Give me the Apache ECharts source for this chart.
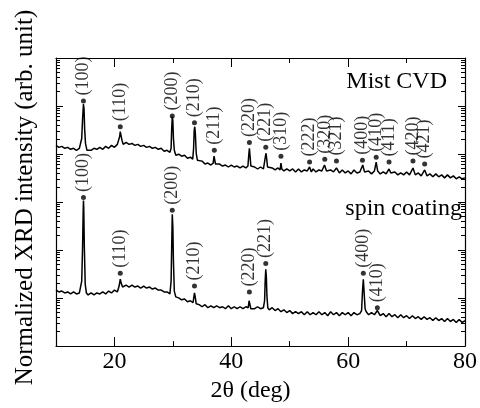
<!DOCTYPE html>
<html><head><meta charset="utf-8">
<script src="https://cdn.jsdelivr.net/npm/echarts@6/dist/echarts.min.js"></script>
<style>html,body{margin:0;padding:0;background:#fff}#c{width:480px;height:408px}</style>
</head><body><div id="c"></div>
<script>
// ---- data: [2theta (deg), normalized intensity (arb.)] ----
const mistCVD = [[10,15150],[10.5,13780],[11,14450],[11.5,13150],[12,13780],[12.5,12540],[13,13150],[13.5,11960],[14,13150],[14.2,12540],[14.4,21070],[14.55,54100],[14.7,110000],[14.8,86700],[14.9,33800],[15.05,16640],[15.3,11960],[15.5,13150],[16,11960],[16.5,13150],[17,12540],[17.5,13780],[18,12540],[18.5,14450],[19,13150],[19.5,15150],[20,13780],[20.5,15880],[20.7,16640],[20.9,23200],[21.0,29300],[21.1,25400],[21.3,19170],[21.5,15880],[22,17450],[22.5,15880],[23,16640],[23.5,15150],[24,15880],[24.5,14450],[25,15150],[25.5,13780],[26,14450],[26.5,13150],[27,13780],[27.5,12540],[28,13150],[28.5,11410],[29,11960],[29.5,10890],[29.7,13150],[29.8,33800],[29.9,59500],[30.0,49200],[30.1,21070],[30.25,11960],[30.5,9450],[31,9910],[31.5,9010],[32,9450],[32.5,8200],[33,8600],[33.4,7825],[33.55,13150],[33.65,30700],[33.75,37100],[33.85,27200],[34.0,10380],[34.2,7460],[34.5,6790],[35,7120],[35.5,6180],[36,6480],[36.5,5900],[36.9,6480],[37.05,9010],[37.15,9450],[37.3,6180],[37.5,5620],[38,6180],[38.5,5620],[39,5900],[39.5,5370],[40,5900],[40.5,5370],[41,5620],[41.5,5120],[42,5620],[42.5,5120],[42.85,5620],[43.0,9910],[43.1,13150],[43.2,9450],[43.35,5620],[43.5,5120],[44,5370],[44.5,4880],[45,5370],[45.5,4880],[45.7,5370],[45.85,9010],[45.95,10380],[46.05,8200],[46.2,5370],[46.5,4880],[47,5120],[47.5,4660],[48,5120],[48.35,4660],[48.5,6480],[48.65,4880],[49,4440],[49.5,4880],[50,4440],[50.5,4880],[51,4240],[51.5,4880],[52,4240],[52.5,4660],[53,4440],[53.4,5370],[53.7,4240],[54,4880],[54.5,4240],[55,4660],[55.5,4440],[55.95,5900],[56.3,4440],[56.5,4040],[57,4660],[57.5,4240],[58,5120],[58.5,4040],[59,4660],[59.5,4040],[60,4440],[60.5,3860],[61,4660],[61.5,4040],[62,4240],[62.5,5900],[62.8,4240],[63,3860],[63.5,4440],[64,3860],[64.5,4440],[64.8,6790],[65.05,4440],[65.5,3860],[66,4240],[66.5,3860],[67,4880],[67.3,4040],[67.5,3680],[68,4240],[68.5,3680],[69,4040],[69.5,3680],[70,4240],[70.5,3680],[71.1,5120],[71.5,3680],[72,4040],[72.5,3510],[73.1,4660],[73.5,3510],[74,3860],[74.5,3350],[75,3860],[75.5,3350],[76,3680],[76.5,3190],[77,3680],[77.5,3190],[78,3510],[78.5,3050],[79,3350],[79.5,3050],[80,3190]];

const spinCoating = [[10,14.7],[10.5,13.4],[11,14.0],[11.5,12.8],[12,13.4],[12.5,12.2],[13,13.4],[13.5,12.2],[14,12.8],[14.2,13.4],[14.4,22.5],[14.55,117],[14.65,611],[14.7,1077],[14.75,774],[14.85,117],[15.0,19.5],[15.2,12.8],[15.5,11.6],[16,12.8],[16.5,11.6],[17,12.8],[17.5,12.2],[18,13.4],[18.5,12.2],[19,14.0],[19.5,12.8],[20,14.7],[20.5,13.4],[20.8,17.8],[21.0,24.7],[21.15,20.5],[21.4,17.0],[22,18.6],[22.5,17.0],[23,18.6],[23.5,17.0],[24,17.8],[24.5,16.2],[25,17.8],[25.5,16.2],[26,17.0],[26.5,15.4],[27,16.2],[27.5,14.7],[28,14.7],[28.5,13.4],[29,13.4],[29.5,12.2],[29.7,22.5],[29.8,117],[29.9,556],[30.0,301],[30.1,57.8],[30.25,14.0],[30.5,10.6],[31,10.1],[31.5,9.2],[32,9.6],[32.5,8.4],[33,8.8],[33.45,8.0],[33.6,10.6],[33.7,12.8],[33.8,11.1],[34.0,7.6],[34.5,7.3],[35,6.6],[35.5,7.3],[36,6.3],[36.5,6.9],[37,6.3],[37.5,6.9],[38,6.3],[38.5,6.6],[39,6.0],[39.5,6.9],[40,6.0],[40.5,6.6],[41,6.0],[41.5,6.6],[42,6.0],[42.5,6.6],[42.9,6.3],[43.05,8.8],[43.1,9.6],[43.2,8.4],[43.35,6.0],[43.5,6.6],[44,6.0],[44.5,6.6],[45,6.0],[45.5,6.3],[45.7,8.8],[45.8,22.5],[45.9,39.6],[46.0,28.5],[46.1,11.1],[46.25,6.3],[46.5,5.7],[47,6.3],[47.5,5.5],[48,6.0],[48.5,5.2],[49,5.7],[49.5,5.0],[50,5.5],[50.5,4.75],[51,5.2],[51.5,4.75],[52,5.2],[52.5,4.5],[53,5.2],[53.5,4.5],[54,5.0],[54.5,4.5],[55,5.2],[55.5,4.5],[56,5.0],[56.5,4.3],[57,5.2],[57.5,4.5],[58,5.0],[58.5,4.3],[59,5.0],[59.5,4.5],[60,5.0],[60.5,4.3],[61,5.0],[61.5,4.5],[62,4.75],[62.3,5.5],[62.45,13.4],[62.6,24.7],[62.75,12.2],[62.9,6.0],[63.1,5.2],[63.5,4.5],[64,5.0],[64.5,4.5],[65.0,5.5],[65.5,4.3],[66,4.75],[66.5,4.1],[67,4.75],[67.5,4.1],[68,4.5],[68.5,3.9],[69,4.5],[69.5,3.9],[70,4.3],[70.5,3.75],[71,4.3],[71.5,3.75],[72,4.1],[72.5,3.6],[73,4.1],[73.5,3.6],[74,3.9],[74.5,3.4],[75,3.9],[75.5,3.4],[76,3.75],[76.5,3.25],[77,3.75],[77.5,3.25],[78,3.6],[78.5,3.1],[79,3.6],[79.5,3.1],[80,3.4]];

// peak index labels and the level of their marker dots
const mistHkl = ['(100)','(110)','(200)','(210)','(211)','(220)','(221)','(310)','(222)','(320)','(321)','(400)','(410)','(411)','(420)','(421)'];
const mistPeakTheta = [14.7,21.0,29.9,33.7,37.1,43.1,45.9,48.5,53.4,56.0,58.0,62.45,64.8,67.0,71.1,73.1];
const mistMarkerLevel = [126600,37100,62300,44800,11960,17450,13780,9010,6790,7825,7120,7460,8600,6790,7120,6180];

const spinHkl = ['(100)','(110)','(200)','(210)','(220)','(221)','(400)','(410)'];
const spinPeakTheta = [14.7,21.0,29.9,33.7,43.1,45.9,62.6,65.0];
const spinMarkerLevel = [1240,32.8,672,17.8,13.4,52.6,32.8,6.3];

const xMajorTicks = [20,40,60,80];
const xMinorTicks = [30,50,70];
const seriesNames = ['Mist CVD','spin coating'];

// ---- chart ----
const serif = 'Liberation Serif';
const black = '#000';

function xAx(pos, ticks, len, withLabels, withLine) {
  const a = {
    type:'value', min:10, max:80, interval:10, position:pos, gridIndex:0,
    axisLine:{show:withLine, onZero:false, lineStyle:{color:black, width:1.2}},
    axisTick:{show:true, inside:true, length:len, customValues:ticks, lineStyle:{color:black, width:1}},
    axisLabel:{show:false}, splitLine:{show:false}
  };
  if (withLabels) {
    a.axisLabel = {show:true, customValues:xMajorTicks, color:black, fontSize:24, fontFamily:serif, margin:4};
    a.name = '2\u03B8 (deg)';
    a.nameLocation = 'middle';
    a.nameGap = 31;
    a.nameTextStyle = {color:black, fontSize:24, fontFamily:serif, padding:[0,20,0,0]};
  }
  return a;
}
function yAx(pos, withName) {
  const a = {
    type:'log', logBase:10, min:1, max:1e6, position:pos, gridIndex:0,
    axisLine:{show:true, onZero:false, lineStyle:{color:black, width:1.2}},
    axisTick:{show:true, inside:true, length:7, lineStyle:{color:black, width:1}},
    minorTick:{show:true, splitNumber:9, length:4, lineStyle:{color:black, width:1}},
    axisLabel:{show:false}, splitLine:{show:false}, minorSplitLine:{show:false}
  };
  if (withName) {
    a.name = 'Normalized XRD intensity (arb. unit)';
    a.nameLocation = 'middle';
    a.nameGap = 18;
    a.nameTextStyle = {color:black, fontSize:25, fontFamily:serif, padding:[0,0,0,9]};
  }
  return a;
}
function dots(hkl, theta, level) {
  return {
    type:'scatter', xAxisIndex:0, yAxisIndex:0, symbol:'circle', symbolSize:5,
    itemStyle:{color:black}, z:5,
    data: hkl.map((h,i)=>({name:h, value:[theta[i], level[i]]})),
    label:{show:true, position:'top', distance:3, rotate:90, align:'left', verticalAlign:'middle',
      formatter:p=>p.name, fontSize:18, fontFamily:serif, color:black}
  };
}
function curve(name, data) {
  return {type:'line', name:name, xAxisIndex:0, yAxisIndex:0, data:data, showSymbol:false, symbol:'none',
    lineStyle:{color:black, width:1.5}, z:3};
}

const chart = echarts.init(document.getElementById('c'), null, {renderer:'canvas'});
chart.setOption({
  animation:false,
  backgroundColor:'#fff',
  grid:{left:56, top:58, width:411, height:293, containLabel:false},
  xAxis:[xAx('bottom', xMajorTicks, 9, true, true), xAx('bottom', xMinorTicks, 5, false, false),
         xAx('top', xMajorTicks, 9, false, true), xAx('top', xMinorTicks, 5, false, false)],
  yAxis:[yAx('left', true), yAx('right', false)],
  series:[curve(seriesNames[0], mistCVD), curve(seriesNames[1], spinCoating),
          dots(mistHkl, mistPeakTheta, mistMarkerLevel), dots(spinHkl, spinPeakTheta, spinMarkerLevel)],
  graphic:[
    {type:'text', right:33, top:70, style:{text:seriesNames[0], fill:black, font:'24px ' + serif}},
    {type:'text', right:18, top:197, style:{text:seriesNames[1], fill:black, font:'24px ' + serif}}
  ]
});
</script></body></html>
